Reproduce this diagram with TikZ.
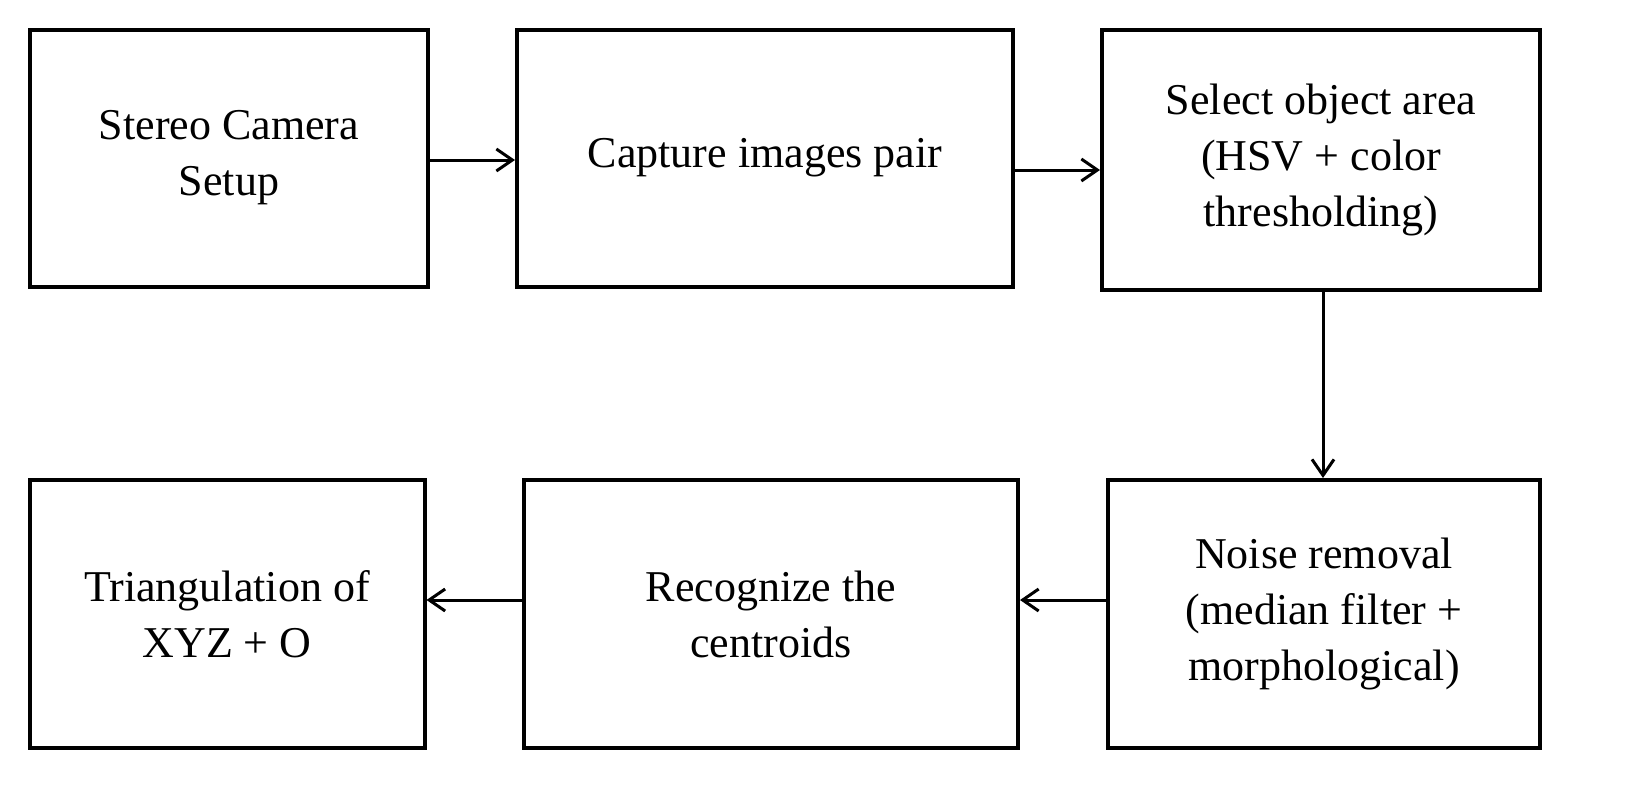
\documentclass[tikz,border=0pt]{standalone}
\usepackage{fontspec}
\setmainfont{Liberation Serif}
\usetikzlibrary{arrows.meta}
\begin{document}
\begin{tikzpicture}[x=1pt,y=-1pt,
  box/.style={draw,line width=4pt,align=center,font=\fontsize{44}{56}\selectfont},
  arr/.style={->,line width=3pt,>={Straight Barb[length=16pt,width=22pt,line width=3pt]}}]
\useasboundingbox (0,0) rectangle (1651,787);
\node[box,minimum width=398pt,minimum height=257pt] (a) at (229,158) {Stereo Camera\\Setup};
\node[box,minimum width=496pt,minimum height=257pt] (b) at (765,158) {Capture images pair};
\node[box,minimum width=438pt,minimum height=260pt] (c) at (1321,160) {Select object area\\(HSV + color\\thresholding)};
\node[box,minimum width=395pt,minimum height=268pt] (d) at (227,614) {Triangulation of\\XYZ + O};
\node[box,minimum width=494pt,minimum height=268pt] (e) at (771,614) {Recognize the\\centroids};
\node[box,minimum width=432pt,minimum height=268pt] (f) at (1324,614) {Noise removal\\(median filter +\\morphological)};
\draw[arr] (a.east |- 0,160) -- (b.west |- 0,160);
\draw[arr] (b.east |- 0,170) -- (c.west |- 0,170);
\draw[arr] (c.south -| 1323,0) -- (f.north -| 1323,0);
\draw[arr] (f.west |- 0,600) -- (e.east |- 0,600);
\draw[arr] (e.west |- 0,600) -- (d.east |- 0,600);
\end{tikzpicture}
\end{document}
